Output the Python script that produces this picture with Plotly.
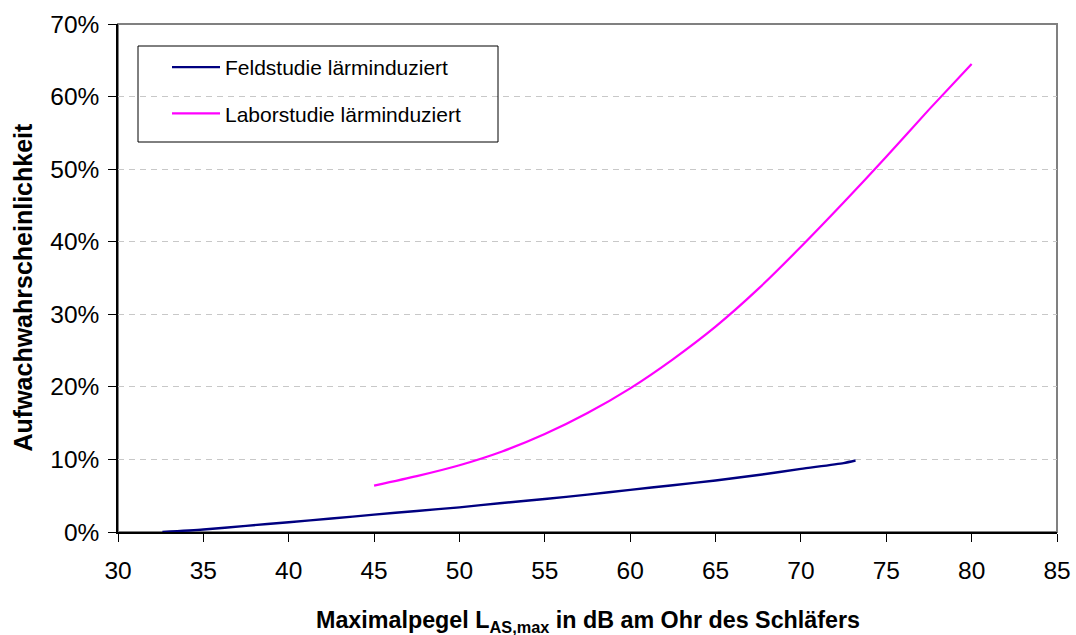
import plotly.graph_objects as go

# Data (x in dB, y in %)
feld_x = [32.6, 35, 37.5, 40, 42.5, 45, 47.5, 50, 52.5, 55, 57.5, 60, 62.5, 65, 67.5, 70, 72.5, 73.2]
feld_y = [0.0, 0.35, 0.85, 1.35, 1.85, 2.4, 2.9, 3.4, 4.0, 4.55, 5.15, 5.8, 6.45, 7.1, 7.85, 8.7, 9.5, 9.85]
labor_x = [45, 47.5, 50, 52.5, 55, 57.5, 60, 62.5, 65, 67.5, 70, 72.5, 75, 77.5, 80]
labor_y = [6.4, 7.7, 9.2, 11.1, 13.5, 16.4, 19.8, 23.8, 28.3, 33.5, 39.3, 45.4, 51.7, 58.2, 64.5]
x_ticks = [30, 35, 40, 45, 50, 55, 60, 65, 70, 75, 80, 85]
y_ticks = [0, 10, 20, 30, 40, 50, 60, 70]

FONT = "Liberation Sans, Arial, sans-serif"

fig = go.Figure()
fig.add_trace(go.Scatter(
    x=feld_x, y=[v / 100 for v in feld_y], mode="lines", name="Feldstudie lärminduziert",
    line=dict(color="#000080", width=2.4, shape="spline", smoothing=0.6), legendgroup="a"))
fig.add_trace(go.Scatter(
    x=labor_x, y=[v / 100 for v in labor_y], mode="lines", name="Laborstudie lärminduziert",
    line=dict(color="#FF00FF", width=2.2, shape="spline", smoothing=0.6), legendgroup="b"))

W, H = 1076, 635
L, R, T, B = 118, 19, 24, 103
pw, ph = W - L - R, H - T - B

def px(xp):
    return (xp - L) / pw

def py(yp):
    return 1 - (yp - T) / ph

fig.update_layout(
    width=W, height=H,
    margin=dict(l=L, r=R, t=T, b=B, autoexpand=False),
    paper_bgcolor="white", plot_bgcolor="white",
    font=dict(family=FONT, color="black", size=23),
    showlegend=True,
    legend=dict(
        x=px(167), y=py(47), xanchor="left", yanchor="top",
        bgcolor="rgba(0,0,0,0)", borderwidth=0,
        font=dict(size=21, family=FONT, color="black"),
        tracegroupgap=16, itemwidth=48,
    ),
    xaxis=dict(
        range=[30, 85], tickmode="array", tickvals=x_ticks, ticktext=[str(t) for t in x_ticks],
        showgrid=False, zeroline=False, showline=True, linecolor="black", linewidth=1.5,
        ticks="outside", ticklen=8, tickcolor="black", tickwidth=1, ticklabelstandoff=8,
        tickfont=dict(size=24.5, family=FONT, color="black"),
    ),
    yaxis=dict(
        range=[0, 0.7], tickmode="array", tickvals=[v / 100 for v in y_ticks],
        ticktext=[f"{v}%" for v in y_ticks],
        showgrid=True, gridcolor="#c8c8c8", gridwidth=1, griddash="6px,5px",
        zeroline=False, showline=True, linecolor="black", linewidth=1.5,
        ticks="outside", ticklen=8, tickcolor="black", tickwidth=1, ticklabelstandoff=4,
        tickfont=dict(size=24.5, family=FONT, color="black"),
    ),
    shapes=[
        dict(type="rect", xref="paper", yref="paper", x0=0, x1=1, y0=0, y1=1,
             line=dict(color="#808080", width=2), layer="below"),
        dict(type="rect", xref="paper", yref="paper", x0=px(138), x1=px(498), y0=py(142), y1=py(46),
             line=dict(color="black", width=1), fillcolor="rgba(0,0,0,0)", layer="above"),
    ],
    annotations=[
        dict(text="<b>Maximalpegel L<sub>AS,max</sub> in dB am Ohr des Schläfers</b>",
             xref="paper", yref="paper", x=px(588), y=py(621), xanchor="center", yanchor="middle",
             showarrow=False, font=dict(size=23.3, family=FONT, color="black")),
        dict(text="<b>Aufwachwahrscheinlichkeit</b>", textangle=-90,
             xref="paper", yref="paper", x=px(22.5), y=py(287), xanchor="center", yanchor="middle",
             showarrow=False, font=dict(size=25, family=FONT, color="black")),
    ],
)

fig.write_html("out.html")
